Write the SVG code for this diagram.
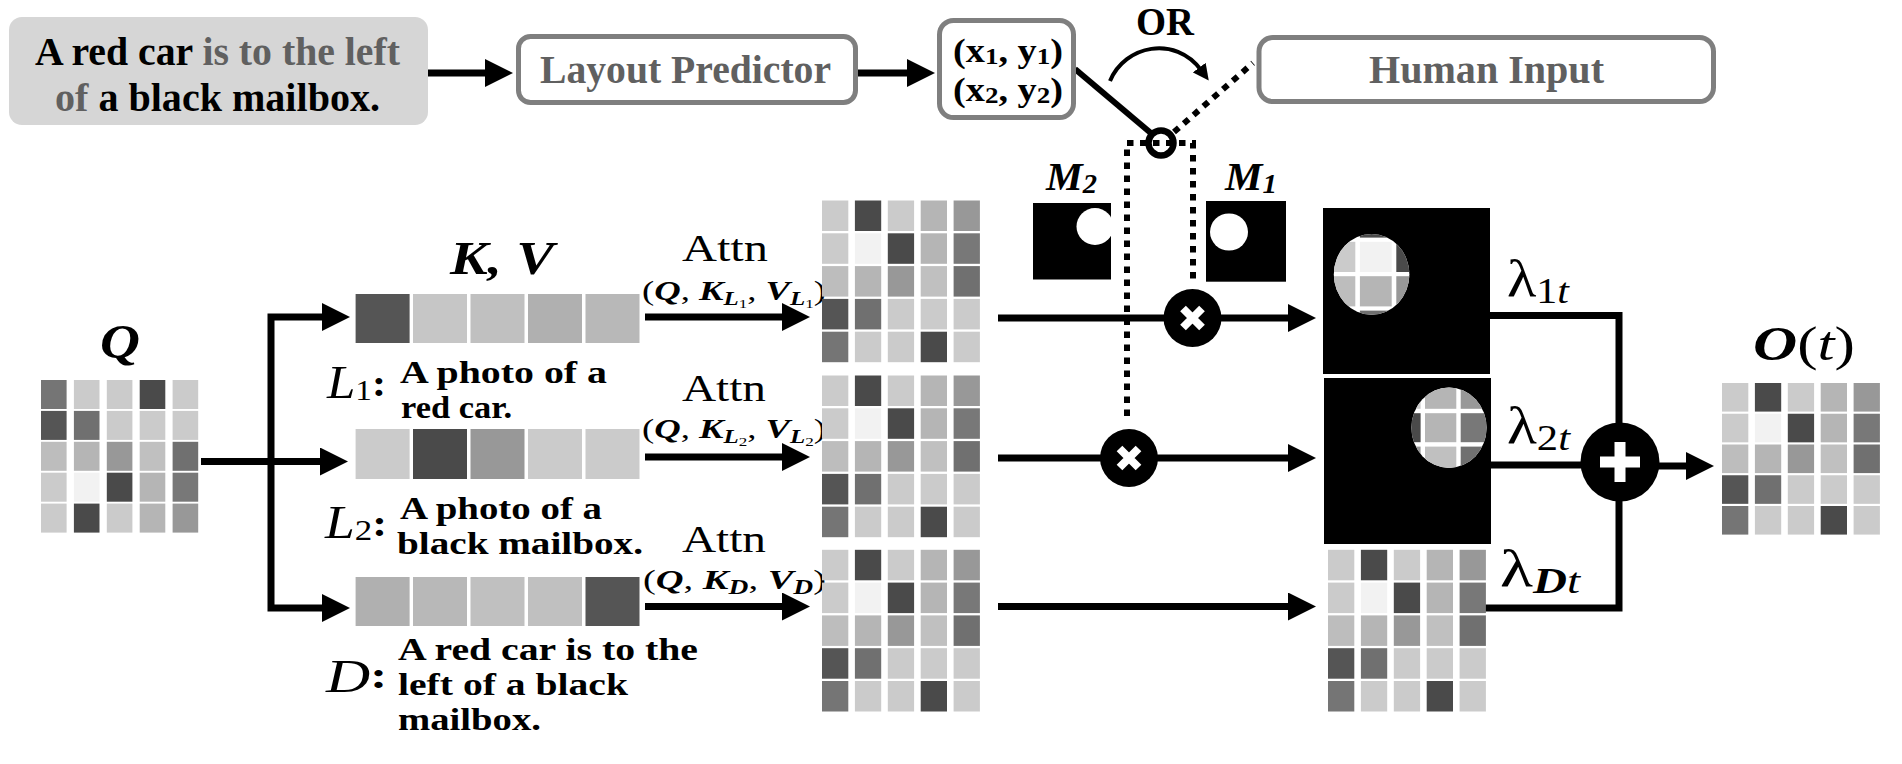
<svg xmlns="http://www.w3.org/2000/svg" xmlns:xlink="http://www.w3.org/1999/xlink" width="1902" height="764" viewBox="0 0 1902 764">
<style>
.t{font-family:"Liberation Serif","DejaVu Serif",serif;}
.b{font-weight:bold;}
.bi{font-weight:bold;font-style:italic;}
.it{font-style:italic;}
.gt{fill:#606060;}
.box{fill:#ffffff;stroke:#7f7f7f;stroke-width:5;}
.ln{fill:none;stroke:#000;stroke-width:7;}
.dot{fill:none;stroke:#000;stroke-width:6;stroke-dasharray:6.5 6.5;}
.a{fill:#cbcbcb}.b4{fill:#4a4a4a}.c{fill:#b5b5b5}.d{fill:#989898}.e{fill:#f2f2f2}.f{fill:#787878}.g{fill:#bdbdbd}.h{fill:#c0c0c0}.i{fill:#707070}.j{fill:#555555}.k{fill:#757575}
.blk{fill:#000}
</style>
<defs>
<marker id="ah" viewBox="0 0 28 28" markerWidth="28" markerHeight="28" refX="4" refY="14" orient="auto" markerUnits="userSpaceOnUse"><path d="M0,0 L28,14 L0,28 z" fill="#000"/></marker>
<marker id="ahs" viewBox="0 0 16 16" markerWidth="16" markerHeight="16" refX="3" refY="8" orient="auto" markerUnits="userSpaceOnUse"><path d="M0,0 L16,8 L0,16 z" fill="#000"/></marker>
<g id="attn">
<rect class="a" x="0" y="0" width="26.3" height="30.5"/><rect class="b4" x="32.9" y="0" width="26.3" height="30.5"/><rect class="a" x="65.8" y="0" width="26.3" height="30.5"/><rect class="c" x="98.7" y="0" width="26.3" height="30.5"/><rect class="d" x="131.6" y="0" width="26.3" height="30.5"/>
<rect class="a" x="0" y="32.8" width="26.3" height="30.5"/><rect class="e" x="32.9" y="32.8" width="26.3" height="30.5"/><rect class="b4" x="65.8" y="32.8" width="26.3" height="30.5"/><rect class="c" x="98.7" y="32.8" width="26.3" height="30.5"/><rect class="f" x="131.6" y="32.8" width="26.3" height="30.5"/>
<rect class="g" x="0" y="65.6" width="26.3" height="30.5"/><rect class="c" x="32.9" y="65.6" width="26.3" height="30.5"/><rect class="d" x="65.8" y="65.6" width="26.3" height="30.5"/><rect class="h" x="98.7" y="65.6" width="26.3" height="30.5"/><rect class="i" x="131.6" y="65.6" width="26.3" height="30.5"/>
<rect class="j" x="0" y="98.4" width="26.3" height="30.5"/><rect class="i" x="32.9" y="98.4" width="26.3" height="30.5"/><rect class="a" x="65.8" y="98.4" width="26.3" height="30.5"/><rect class="a" x="98.7" y="98.4" width="26.3" height="30.5"/><rect class="a" x="131.6" y="98.4" width="26.3" height="30.5"/>
<rect class="k" x="0" y="131.2" width="26.3" height="30.5"/><rect class="a" x="32.9" y="131.2" width="26.3" height="30.5"/><rect class="a" x="65.8" y="131.2" width="26.3" height="30.5"/><rect class="b4" x="98.7" y="131.2" width="26.3" height="30.5"/><rect class="a" x="131.6" y="131.2" width="26.3" height="30.5"/>
</g>
<clipPath id="cm2"><rect x="1033" y="203" width="78" height="76.5"/></clipPath>
<clipPath id="cc1"><ellipse cx="1371.6" cy="274.4" rx="37.8" ry="40.4"/></clipPath>
<clipPath id="cc2"><ellipse cx="1449" cy="427.7" rx="37.6" ry="40.2"/></clipPath>
</defs>
<rect x="0" y="0" width="1902" height="764" fill="#ffffff"/>

<g id="connectors">
<line class="ln" x1="428" y1="73" x2="489" y2="73" marker-end="url(#ah)"/>
<line class="ln" x1="858" y1="73" x2="911" y2="73" marker-end="url(#ah)"/>
<line x1="1075" y1="69" x2="1152" y2="134" stroke="#000" stroke-width="6"/>
<line class="dot" x1="1174" y1="132" x2="1253" y2="63"/>
<path class="dot" d="M1127,416 V143 H1193 V280"/>
<path d="M1110,81 C1125,45 1175,35 1201,70" fill="none" stroke="#000" stroke-width="4" marker-end="url(#ahs)"/>
<line class="ln" x1="201" y1="461.5" x2="324" y2="461.5" marker-end="url(#ah)"/>
<path class="ln" d="M271,465 V317 H326" marker-end="url(#ah)"/>
<path class="ln" d="M271,458 V608 H326" marker-end="url(#ah)"/>
<line class="ln" x1="645" y1="317" x2="786" y2="317" marker-end="url(#ah)"/>
<line class="ln" x1="645" y1="457" x2="786" y2="457" marker-end="url(#ah)"/>
<line class="ln" x1="645" y1="606.5" x2="786" y2="606.5" marker-end="url(#ah)"/>
<line class="ln" x1="998" y1="318" x2="1292" y2="318" marker-end="url(#ah)"/>
<line class="ln" x1="998" y1="458" x2="1292" y2="458" marker-end="url(#ah)"/>
<line class="ln" x1="998" y1="606.5" x2="1292" y2="606.5" marker-end="url(#ah)"/>
<path class="ln" d="M1490,315.5 H1619 V430"/>
<path class="ln" d="M1491,465 H1590"/>
<path class="ln" d="M1485,608 H1619 V495"/>
<line class="ln" x1="1655" y1="466" x2="1690" y2="466" marker-end="url(#ah)"/>
</g>

<g id="prompt">
<rect x="9" y="17" width="419" height="108" rx="13" fill="#d6d6d6"/>
<text class="t b" font-size="39"><tspan x="35" y="65" textLength="365" lengthAdjust="spacingAndGlyphs">A red car <tspan class="gt">is to the left</tspan></tspan><tspan x="55" y="111" textLength="325" lengthAdjust="spacingAndGlyphs"><tspan class="gt">of</tspan> a black mailbox.</tspan></text>
</g>

<g id="layout-predictor">
<rect class="box" x="518.5" y="36.5" width="337" height="66" rx="12"/>
<text class="t b gt" x="540" y="83" font-size="39.5" textLength="291" lengthAdjust="spacingAndGlyphs">Layout Predictor</text>
</g>

<g id="coords">
<rect class="box" x="939.5" y="20.5" width="134" height="97" rx="14"/>
<text class="t b" font-size="34"><tspan x="953" y="62" textLength="110" lengthAdjust="spacingAndGlyphs">(x<tspan font-size="24" dy="2">1</tspan><tspan dy="-2">, y</tspan><tspan font-size="24" dy="2">1</tspan><tspan dy="-2">)</tspan></tspan><tspan x="953" y="101" textLength="110" lengthAdjust="spacingAndGlyphs">(x<tspan font-size="24" dy="2">2</tspan><tspan dy="-2">, y</tspan><tspan font-size="24" dy="2">2</tspan><tspan dy="-2">)</tspan></tspan></text>
</g>

<g id="or-label">
<text class="t b" x="1136" y="35" font-size="39" textLength="58" lengthAdjust="spacingAndGlyphs">OR</text>
</g>

<g id="human-input">
<rect class="box" x="1259" y="37.5" width="454.5" height="64" rx="14"/>
<text class="t b gt" x="1369" y="83" font-size="40" textLength="235" lengthAdjust="spacingAndGlyphs">Human Input</text>
</g>

<g id="switch">
<circle cx="1161" cy="143" r="12.5" fill="none" stroke="#000" stroke-width="6.5"/>
</g>

<g id="q-matrix">
<text class="t bi" x="100" y="358" font-size="48" textLength="40" lengthAdjust="spacingAndGlyphs">Q</text>
<rect class="k" x="41" y="380" width="25.6" height="29"/><rect class="a" x="73.9" y="380" width="25.6" height="29"/><rect class="a" x="106.8" y="380" width="25.6" height="29"/><rect class="b4" x="139.7" y="380" width="25.6" height="29"/><rect class="a" x="172.6" y="380" width="25.6" height="29"/>
<rect class="j" x="41" y="410.9" width="25.6" height="29"/><rect class="i" x="73.9" y="410.9" width="25.6" height="29"/><rect class="a" x="106.8" y="410.9" width="25.6" height="29"/><rect class="a" x="139.7" y="410.9" width="25.6" height="29"/><rect class="a" x="172.6" y="410.9" width="25.6" height="29"/>
<rect class="g" x="41" y="441.8" width="25.6" height="29"/><rect class="c" x="73.9" y="441.8" width="25.6" height="29"/><rect class="d" x="106.8" y="441.8" width="25.6" height="29"/><rect class="h" x="139.7" y="441.8" width="25.6" height="29"/><rect class="i" x="172.6" y="441.8" width="25.6" height="29"/>
<rect class="a" x="41" y="472.7" width="25.6" height="29"/><rect class="e" x="73.9" y="472.7" width="25.6" height="29"/><rect class="b4" x="106.8" y="472.7" width="25.6" height="29"/><rect class="c" x="139.7" y="472.7" width="25.6" height="29"/><rect class="f" x="172.6" y="472.7" width="25.6" height="29"/>
<rect class="a" x="41" y="503.6" width="25.6" height="29"/><rect class="b4" x="73.9" y="503.6" width="25.6" height="29"/><rect class="a" x="106.8" y="503.6" width="25.6" height="29"/><rect class="c" x="139.7" y="503.6" width="25.6" height="29"/><rect class="d" x="172.6" y="503.6" width="25.6" height="29"/>
</g>

<g id="kv-label">
<text class="t bi" x="450" y="274" font-size="46" textLength="104" lengthAdjust="spacingAndGlyphs">K, V</text>
</g>

<g id="kv-L1">
<rect class="j" x="355.6" y="294" width="54" height="49"/><rect fill="#c6c6c6" x="413" y="294" width="54" height="49"/><rect class="h" x="470.5" y="294" width="54" height="49"/><rect fill="#b0b0b0" x="528" y="294" width="54" height="49"/><rect fill="#b8b8b8" x="585.5" y="294" width="54" height="49"/>
</g>
<g id="kv-L2">
<rect class="a" x="355.6" y="429" width="54" height="50"/><rect class="b4" x="413" y="429" width="54" height="50"/><rect class="d" x="470.5" y="429" width="54" height="50"/><rect class="a" x="528" y="429" width="54" height="50"/><rect class="a" x="585.5" y="429" width="54" height="50"/>
</g>
<g id="kv-D">
<rect fill="#b0b0b0" x="355.6" y="577" width="54" height="49"/><rect fill="#b8b8b8" x="413" y="577" width="54" height="49"/><rect class="h" x="470.5" y="577" width="54" height="49"/><rect class="h" x="528" y="577" width="54" height="49"/><rect class="j" x="585.5" y="577" width="54" height="49"/>
</g>

<g id="label-L1">
<text class="t" x="327" y="398" font-size="46" textLength="59" lengthAdjust="spacingAndGlyphs"><tspan class="it">L</tspan><tspan font-size="30" dy="2">1</tspan><tspan class="b" font-size="38" dy="-4">:</tspan></text>
<text class="t b" font-size="31"><tspan x="400" y="383" textLength="207" lengthAdjust="spacingAndGlyphs">A photo of a</tspan><tspan x="401" y="418" textLength="111" lengthAdjust="spacingAndGlyphs">red car.</tspan></text>
</g>
<g id="label-L2">
<text class="t" x="325" y="538" font-size="46" textLength="62" lengthAdjust="spacingAndGlyphs"><tspan class="it">L</tspan><tspan font-size="30" dy="2">2</tspan><tspan class="b" font-size="38" dy="-4">:</tspan></text>
<text class="t b" font-size="31"><tspan x="400" y="519" textLength="202" lengthAdjust="spacingAndGlyphs">A photo of a</tspan><tspan x="397" y="554" textLength="246" lengthAdjust="spacingAndGlyphs">black mailbox.</tspan></text>
</g>
<g id="label-D">
<text class="t" x="326" y="692" font-size="46" textLength="61" lengthAdjust="spacingAndGlyphs"><tspan class="it">D</tspan><tspan class="b" font-size="38" dy="-4">:</tspan></text>
<text class="t b" font-size="31"><tspan x="398" y="660" textLength="300" lengthAdjust="spacingAndGlyphs">A red car is to the</tspan><tspan x="398" y="695" textLength="230" lengthAdjust="spacingAndGlyphs">left of a black</tspan><tspan x="398" y="730" textLength="143" lengthAdjust="spacingAndGlyphs">mailbox.</tspan></text>
</g>

<g id="attn-labels">
<text class="t" x="682" y="261" font-size="38" textLength="86" lengthAdjust="spacingAndGlyphs">Attn</text>
<text class="t" x="642" y="300" font-size="28" textLength="184" lengthAdjust="spacingAndGlyphs">(<tspan class="bi">Q</tspan>, <tspan class="bi">K</tspan><tspan class="bi" font-size="19" dy="5">L</tspan><tspan font-size="13" dy="3">1</tspan><tspan dy="-8">, </tspan><tspan class="bi">V</tspan><tspan class="bi" font-size="19" dy="5">L</tspan><tspan font-size="13" dy="3">1</tspan><tspan dy="-8">)</tspan></text>
<text class="t" x="682" y="401" font-size="38" textLength="84" lengthAdjust="spacingAndGlyphs">Attn</text>
<text class="t" x="642" y="438" font-size="28" textLength="184" lengthAdjust="spacingAndGlyphs">(<tspan class="bi">Q</tspan>, <tspan class="bi">K</tspan><tspan class="bi" font-size="19" dy="5">L</tspan><tspan font-size="13" dy="3">2</tspan><tspan dy="-8">, </tspan><tspan class="bi">V</tspan><tspan class="bi" font-size="19" dy="5">L</tspan><tspan font-size="13" dy="3">2</tspan><tspan dy="-8">)</tspan></text>
<text class="t" x="682" y="552" font-size="38" textLength="84" lengthAdjust="spacingAndGlyphs">Attn</text>
<text class="t" x="643" y="589" font-size="28" textLength="183" lengthAdjust="spacingAndGlyphs">(<tspan class="bi">Q</tspan>, <tspan class="bi">K</tspan><tspan class="bi" font-size="20" dy="5">D</tspan><tspan dy="-5">, </tspan><tspan class="bi">V</tspan><tspan class="bi" font-size="20" dy="5">D</tspan><tspan dy="-5">)</tspan></text>
</g>

<g id="attn-L1"><use xlink:href="#attn" href="#attn" transform="translate(822,200.5)"/></g>
<g id="attn-L2"><use xlink:href="#attn" href="#attn" transform="translate(822,375.5)"/></g>
<g id="attn-D"><use xlink:href="#attn" href="#attn" transform="translate(822,549.8)"/></g>

<g id="mask-M2">
<text class="t bi" x="1046" y="190" font-size="39" textLength="51" lengthAdjust="spacingAndGlyphs">M<tspan font-size="27" dy="3">2</tspan></text>
<rect class="blk" x="1033" y="203" width="78" height="76.5"/>
<circle cx="1095" cy="226.5" r="18.5" fill="#fff" clip-path="url(#cm2)"/>
</g>
<g id="mask-M1">
<text class="t bi" x="1225" y="190" font-size="39" textLength="52" lengthAdjust="spacingAndGlyphs">M<tspan font-size="27" dy="3">1</tspan></text>
<rect class="blk" x="1206" y="201" width="80" height="80.7"/>
<ellipse cx="1229" cy="232" rx="19" ry="18.6" fill="#fff"/>
</g>

<g id="mult-1">
<circle cx="1192.5" cy="318" r="29" fill="#000"/>
<path d="M1183,308.5 L1202,327.5 M1202,308.5 L1183,327.5" stroke="#fff" stroke-width="8"/>
</g>
<g id="mult-2">
<circle cx="1129" cy="458" r="29" fill="#000"/>
<path d="M1119.5,448.5 L1138.5,467.5 M1138.5,448.5 L1119.5,467.5" stroke="#fff" stroke-width="8"/>
</g>

<g id="masked-out-1">
<rect class="blk" x="1323" y="208" width="167" height="166"/>
<g clip-path="url(#cc1)">
<rect x="1320" y="230" width="100" height="90" fill="#fff"/>
<rect class="a" x="1323.5" y="207.4" width="31.8" height="30.2"/><rect class="b4" x="1359.9" y="207.4" width="31.8" height="30.2"/><rect class="a" x="1396.3" y="207.4" width="31.8" height="30.2"/>
<rect class="a" x="1323.5" y="241.8" width="31.8" height="30.2"/><rect class="e" x="1359.9" y="241.8" width="31.8" height="30.2"/><rect class="b4" x="1396.3" y="241.8" width="31.8" height="30.2"/>
<rect class="g" x="1323.5" y="276.2" width="31.8" height="30.2"/><rect class="c" x="1359.9" y="276.2" width="31.8" height="30.2"/><rect class="d" x="1396.3" y="276.2" width="31.8" height="30.2"/>
<rect class="j" x="1323.5" y="310.6" width="31.8" height="30.2"/><rect class="i" x="1359.9" y="310.6" width="31.8" height="30.2"/><rect class="a" x="1396.3" y="310.6" width="31.8" height="30.2"/>
</g>
</g>
<g id="masked-out-2">
<rect class="blk" x="1324" y="378" width="167" height="166"/>
<g clip-path="url(#cc2)">
<rect x="1400" y="380" width="100" height="100" fill="#fff"/>
<rect class="a" x="1389.3" y="379.8" width="31.3" height="29"/><rect class="c" x="1425" y="379.8" width="31.3" height="29"/><rect class="d" x="1460.7" y="379.8" width="31.3" height="29"/>
<rect class="b4" x="1389.3" y="413.2" width="31.3" height="29"/><rect class="c" x="1425" y="413.2" width="31.3" height="29"/><rect class="f" x="1460.7" y="413.2" width="31.3" height="29"/>
<rect class="d" x="1389.3" y="446.6" width="31.3" height="29"/><rect class="h" x="1425" y="446.6" width="31.3" height="29"/><rect class="i" x="1460.7" y="446.6" width="31.3" height="29"/>
</g>
</g>
<g id="out-D"><use xlink:href="#attn" href="#attn" transform="translate(1328,549.8)"/></g>

<g id="lambda-labels">
<text class="t" x="1507" y="295.5" font-size="52" textLength="62" lengthAdjust="spacingAndGlyphs">λ<tspan font-size="36" dy="7">1</tspan><tspan class="it" font-size="36">t</tspan></text>
<text class="t" x="1507" y="443" font-size="52" textLength="63" lengthAdjust="spacingAndGlyphs">λ<tspan font-size="36" dy="7">2</tspan><tspan class="it" font-size="36">t</tspan></text>
<text class="t" x="1500" y="586" font-size="52" textLength="80" lengthAdjust="spacingAndGlyphs">λ<tspan class="bi" font-size="36" dy="7">D</tspan><tspan class="it" font-size="36">t</tspan></text>
</g>

<g id="sum">
<circle cx="1620" cy="462" r="39.5" fill="#000"/>
<path d="M1600,462 H1640 M1620,442 V482" stroke="#fff" stroke-width="11"/>
</g>

<g id="output">
<text class="t" x="1753" y="360" font-size="48" textLength="102" lengthAdjust="spacingAndGlyphs"><tspan class="bi">O</tspan>(<tspan class="it">t</tspan>)</text>
<use xlink:href="#attn" href="#attn" transform="translate(1722,383) scale(1,0.9375)"/>
</g>
</svg>
